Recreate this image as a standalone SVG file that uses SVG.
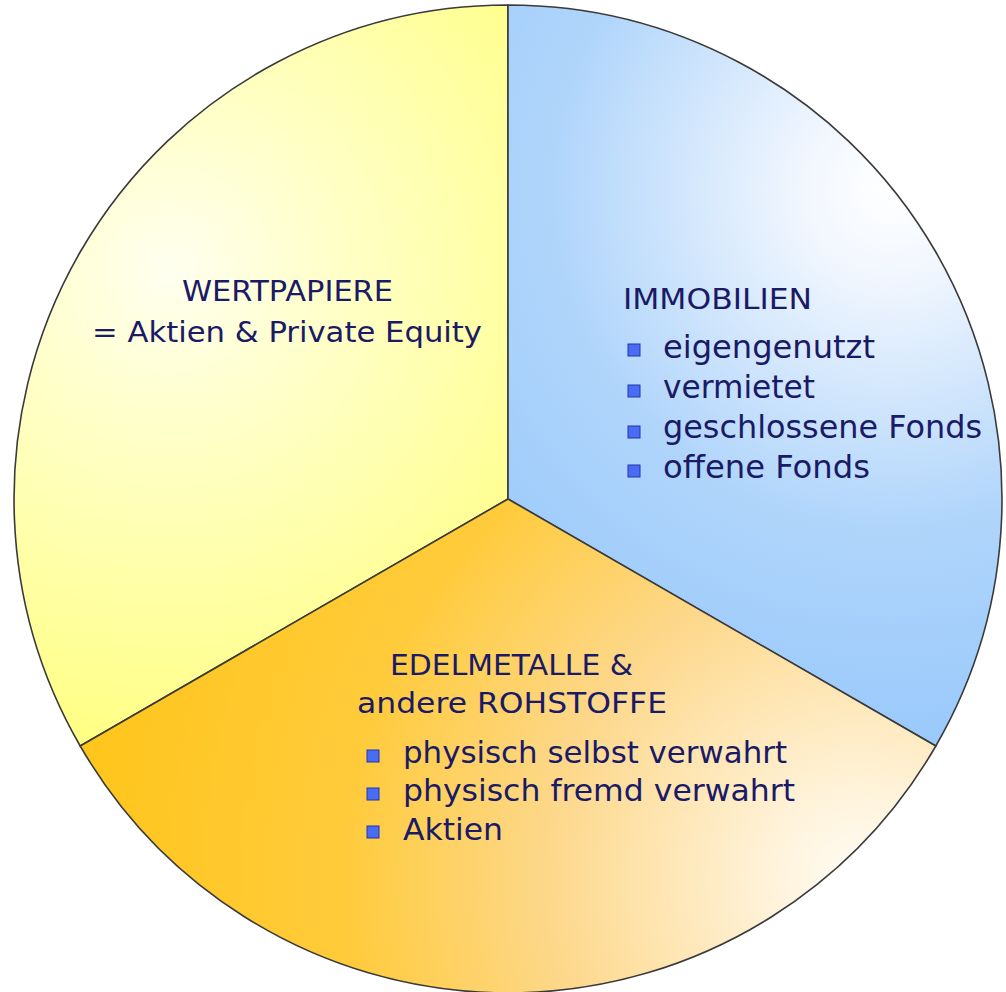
<svg xmlns="http://www.w3.org/2000/svg" width="1006" height="992" viewBox="0 0 1006 992">
<defs>
<style>
.slice{stroke:#3a3a3a;stroke-width:1.6;stroke-linejoin:round}
.t{font-family:"DejaVu Sans","Liberation Sans",sans-serif;fill:#1a1a66}
.h{font-size:29px}
.b{font-size:32px}
.b2{font-size:31px}
.bul{fill:#4a6cf2;stroke:#2334b0;stroke-width:1}
</style>
<radialGradient id="gY" gradientUnits="userSpaceOnUse" cx="170" cy="270" r="480">
<stop offset="0" stop-color="#fffff0"/>
<stop offset="0.35" stop-color="#ffffc8"/>
<stop offset="1" stop-color="#ffff84"/>
</radialGradient>
<radialGradient id="gB" gradientUnits="userSpaceOnUse" cx="890" cy="190" r="560">
<stop offset="0" stop-color="#ffffff"/>
<stop offset="0.15" stop-color="#f2f7fe"/>
<stop offset="0.6" stop-color="#b0d5fb"/>
<stop offset="1" stop-color="#99c9fb"/>
</radialGradient>
<radialGradient id="gO" gradientUnits="userSpaceOnUse" cx="860" cy="880" r="800">
<stop offset="0" stop-color="#fffcf5"/>
<stop offset="0.12" stop-color="#fff2d8"/>
<stop offset="0.4" stop-color="#fdd788"/>
<stop offset="0.65" stop-color="#ffcb3a"/>
<stop offset="1" stop-color="#ffc51a"/>
</radialGradient>
</defs>
<rect width="1006" height="992" fill="#ffffff"/>
<g id="wertpapiere">
<path class="slice" fill="url(#gY)" d="M508,499 L508,5 A494,494 0 0 0 80.2,746 Z"/>
<text class="t h" x="182" y="301" textLength="211" lengthAdjust="spacingAndGlyphs">WERTPAPIERE</text>
<text class="t h" x="92" y="342" textLength="390" lengthAdjust="spacingAndGlyphs">= Aktien &amp; Private Equity</text>
</g>
<g id="immobilien">
<path class="slice" fill="url(#gB)" d="M508,499 L508,5 A494,494 0 0 1 935.8,746 Z"/>
<text class="t h" x="623" y="309" textLength="189" lengthAdjust="spacingAndGlyphs">IMMOBILIEN</text>
<rect class="bul" x="628" y="344" width="12" height="12"/>
<rect class="bul" x="628" y="385" width="12" height="12"/>
<rect class="bul" x="628" y="426" width="12" height="12"/>
<rect class="bul" x="628" y="465" width="12" height="12"/>
<text class="t b" x="663" y="358" textLength="212" lengthAdjust="spacingAndGlyphs">eigengenutzt</text>
<text class="t b" x="663" y="398" textLength="152" lengthAdjust="spacingAndGlyphs">vermietet</text>
<text class="t b" x="663" y="438" textLength="319" lengthAdjust="spacingAndGlyphs">geschlossene Fonds</text>
<text class="t b" x="663" y="478" textLength="207" lengthAdjust="spacingAndGlyphs">offene Fonds</text>
</g>
<g id="edelmetalle">
<path class="slice" fill="url(#gO)" d="M508,499 L80.2,746 A494,494 0 0 0 935.8,746 Z"/>
<text class="t h" x="390" y="675" textLength="243" lengthAdjust="spacingAndGlyphs">EDELMETALLE &amp;</text>
<text class="t h" x="357" y="713" textLength="310" lengthAdjust="spacingAndGlyphs">andere ROHSTOFFE</text>
<rect class="bul" x="367" y="750" width="12" height="12"/>
<rect class="bul" x="367" y="788" width="12" height="12"/>
<rect class="bul" x="367" y="826" width="12" height="12"/>
<text class="t b2" x="403" y="763" textLength="384" lengthAdjust="spacingAndGlyphs">physisch selbst verwahrt</text>
<text class="t b2" x="403" y="801" textLength="392" lengthAdjust="spacingAndGlyphs">physisch fremd verwahrt</text>
<text class="t b2" x="403" y="840" textLength="100" lengthAdjust="spacingAndGlyphs">Aktien</text>
</g>
</svg>
